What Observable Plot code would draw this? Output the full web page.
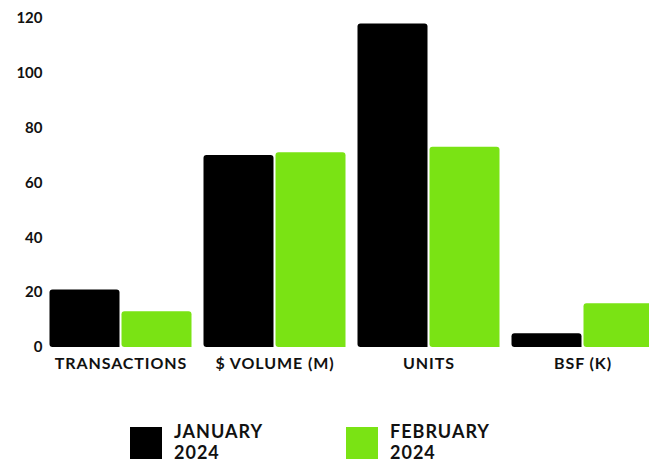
<!DOCTYPE html>
<html>
<head>
<meta charset="utf-8">
<script src="https://cdn.jsdelivr.net/npm/d3@7"></script>
<script src="https://cdn.jsdelivr.net/npm/@observablehq/plot@0.6"></script>
<style>
  html, body { margin: 0; padding: 0; background: #fff; overflow: hidden; }
  body { width: 649px; height: 464px; font-family: Lato, "Open Sans", sans-serif; }
  #chart svg { display: block; overflow: hidden; }
  #chart svg g[aria-label="fx-axis tick label"] text { font-size: 16px; letter-spacing: 0.9px; }
  .legend { position: relative; height: 79px; }
  .item { position: absolute; top: 42px; display: flex; align-items: flex-start; }
  .sw { width: 32px; height: 32px; }
  .lbl { margin-left: 12px; font-weight: 700; font-size: 18px; line-height: 21px; color: #111; margin-top: -6px; letter-spacing: 1px; }
</style>
</head>
<body>
<div id="chart"></div>
<div class="legend" id="legend"></div>
<script>
const categories = ["TRANSACTIONS", "$ VOLUME (M)", "UNITS", "BSF (K)"];
const months = ["JANUARY 2024", "FEBRUARY 2024"];
const january = [21, 70, 118, 5];
const february = [13, 71, 73, 16];
const yTicks = [0, 20, 40, 60, 80, 100, 120];
const colors = ["#000000", "#7ae314"];

const data = [];
categories.forEach((c, i) => {
  data.push({category: c, month: months[0], value: january[i]});
  data.push({category: c, month: months[1], value: february[i]});
});

const chart = Plot.plot({
  width: 649,
  height: 385,
  marginLeft: 43.5,
  marginRight: -10.5,
  marginTop: 18,
  marginBottom: 38,
  style: {fontFamily: "Lato, sans-serif", fontWeight: 700, fontSize: "15px", color: "#111"},
  fx: {domain: categories, paddingInner: 11/154, paddingOuter: 5.5/154, axis: "bottom", label: null, tickSize: 0, tickPadding: 10},
  x: {domain: months, axis: null, paddingInner: 0.028, paddingOuter: 0},
  y: {domain: [0, 120], ticks: yTicks, label: null, tickSize: 0, tickPadding: 7},
  color: {domain: months, range: colors},
  marks: [
    Plot.barY(data, {fx: "category", x: "month", y: "value", fill: "month", ry1: 3, rx1: 3, rx1y1: 3, rx2y1: 3})
  ]
});
document.getElementById("chart").appendChild(chart);

const legend = document.getElementById("legend");
const lefts = [130, 346];
months.forEach((m, i) => {
  const item = document.createElement("div");
  item.className = "item";
  item.style.left = lefts[i] + "px";
  const sw = document.createElement("div");
  sw.className = "sw";
  sw.style.background = colors[i];
  const lbl = document.createElement("div");
  lbl.className = "lbl";
  const parts = m.split(" ");
  lbl.innerHTML = parts[0] + "<br>" + parts[1];
  item.appendChild(sw);
  item.appendChild(lbl);
  legend.appendChild(item);
});
</script>
</body>
</html>
